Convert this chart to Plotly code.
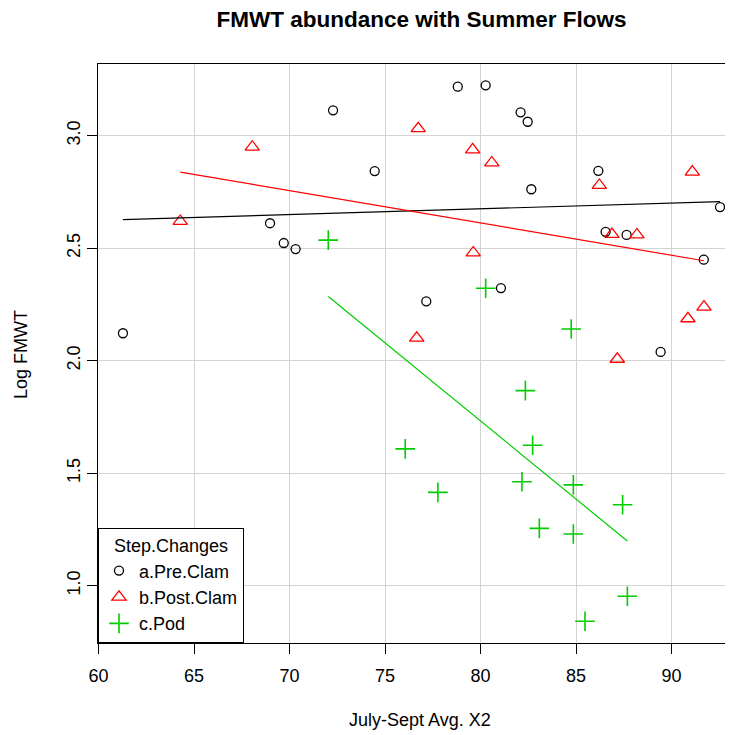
import numpy as np
import plotly.graph_objects as go

# ---- data ----
pre_x = [61.28, 68.98, 69.70, 70.32, 72.28, 74.46, 77.16, 78.81, 80.27, 81.07,
         82.10, 82.47, 82.66, 86.17, 86.55, 87.65, 89.43, 91.69, 92.54]
pre_y = [2.122, 2.611, 2.523, 2.496, 3.113, 2.843, 2.264, 3.218, 3.224, 2.323,
         3.104, 3.062, 2.762, 2.844, 2.573, 2.559, 2.039, 2.449, 2.683]

post_x = [64.28, 68.05, 76.74, 76.66, 79.59, 79.62, 80.59, 86.22, 86.88, 87.16,
          88.19, 90.86, 91.09, 91.70]
post_y = [2.620, 2.950, 3.032, 2.101, 2.938, 2.480, 2.880, 2.780, 2.562, 2.007,
          2.560, 2.187, 2.839, 2.239]

pod_x = [72.03, 76.06, 77.77, 80.27, 82.17, 82.35, 82.73, 83.08, 84.75, 84.86,
         84.86, 85.47, 87.44, 87.69]
pod_y = [2.536, 1.608, 1.415, 2.322, 1.462, 1.867, 1.624, 1.255, 2.141, 1.448,
         1.230, 0.842, 1.360, 0.953]

groups = ["a.Pre.Clam", "b.Post.Clam", "c.Pod"]
colors = ["#000000", "#FF0000", "#00CD00"]
x_ticks = [60, 65, 70, 75, 80, 85, 90]
y_ticks = [1.0, 1.5, 2.0, 2.5, 3.0]

FONT = "Liberation Sans, Arial, sans-serif"

fig = go.Figure()

series = [(pre_x, pre_y), (post_x, post_y), (pod_x, pod_y)]
symbols = ["circle-open", "triangle-up-open", "cross-thin-open"]
sizes = [9, 12.5, 14]
lwidths = [1.3, 1.3, 1.6]

for (xs, ys), name, col, sym, sz, lw in zip(series, groups, colors, symbols, sizes, lwidths):
    fig.add_trace(go.Scatter(
        x=xs, y=ys, mode="markers", name=name,
        marker=dict(symbol=sym, size=sz, color=col, line=dict(color=col, width=lw)),
    ))

# regression lines per group over each group's x range
for (xs, ys), col in zip(series, colors):
    xa = np.array(xs)
    ya = np.array(ys)
    slope, intercept = np.polyfit(xa, ya, 1)
    xl = np.array([xa.min(), xa.max()])
    fig.add_trace(go.Scatter(
        x=xl, y=slope * xl + intercept, mode="lines", showlegend=False,
        line=dict(color=col, width=1.2), hoverinfo="skip",
    ))

# page body adds an 8px offset, so the figure is 8px smaller and shifted
OFF = 8
W, H = 733 - OFF, 735 - OFF
L, T = 98 - OFF, 64 - OFF
B = H - (643 - OFF)
R = 0
px_per_x = 19.1
px_per_y = 225.0
x0 = 60 - 0.5 / px_per_x
x1 = x0 + (W - L - R) / px_per_x
y1 = 3.0 + (135.7 - 64) / px_per_y
y0 = y1 - (H - T - B) / px_per_y

fig.update_layout(
    width=W, height=H,
    margin=dict(l=L, r=R, t=T, b=B, pad=0),
    paper_bgcolor="white", plot_bgcolor="white",
    font=dict(family=FONT, size=18, color="#000000"),
    title=dict(text="<b>FMWT abundance with Summer Flows</b>",
               font=dict(family=FONT, size=22.5, color="#000000"),
               x=(421.5 - OFF) / W, xref="container", xanchor="center",
               y=1 - (19 - OFF) / H, yref="container", yanchor="middle"),
    showlegend=True,
    legend=dict(
        x=0, y=0, xanchor="left", yanchor="bottom",
        bgcolor="white", bordercolor="#000000", borderwidth=1,
        font=dict(family=FONT, size=18, color="#000000"),
        title=dict(text="Step.Changes", side="top center",
                   font=dict(family=FONT, size=18, color="#000000")),
        tracegroupgap=0, itemsizing="trace", itemwidth=30,
    ),
    xaxis=dict(
        range=[x0, x1], tickmode="array", tickvals=x_ticks,
        ticktext=[str(v) for v in x_ticks],
        showgrid=True, gridcolor="#D3D3D3", gridwidth=1, zeroline=False,
        showline=True, linecolor="#000000", linewidth=1, mirror=True,
        ticks="outside", ticklen=10, tickwidth=1, tickcolor="#000000",
        tickfont=dict(family=FONT, size=18, color="#000000"),
        ticklabelstandoff=6,
    ),
    yaxis=dict(
        range=[y0, y1], tickmode="array", tickvals=y_ticks,
        ticktext=["%.1f" % v for v in y_ticks], tickangle=-90,
        showgrid=True, gridcolor="#D3D3D3", gridwidth=1, zeroline=False,
        showline=True, linecolor="#000000", linewidth=1, mirror=False,
        ticks="outside", ticklen=10, tickwidth=1, tickcolor="#000000",
        tickfont=dict(family=FONT, size=18, color="#000000"),
        ticklabelstandoff=0,
    ),
    annotations=[
        dict(text="July-Sept Avg. X2", xref="paper", yref="paper",
             x=(420.3 - 98) / (W - L - R), y=0, xanchor="center", yanchor="middle",
             yshift=-(720 - 643), showarrow=False,
             font=dict(family=FONT, size=18, color="#000000")),
        dict(text="Log FMWT", xref="paper", yref="paper",
             x=0, y=(643 - 355) / (H - T - B), xanchor="center", yanchor="middle",
             xshift=-(98 - 21), textangle=-90, showarrow=False,
             font=dict(family=FONT, size=18, color="#000000")),
    ],
)

fig.write_html("out.html")
